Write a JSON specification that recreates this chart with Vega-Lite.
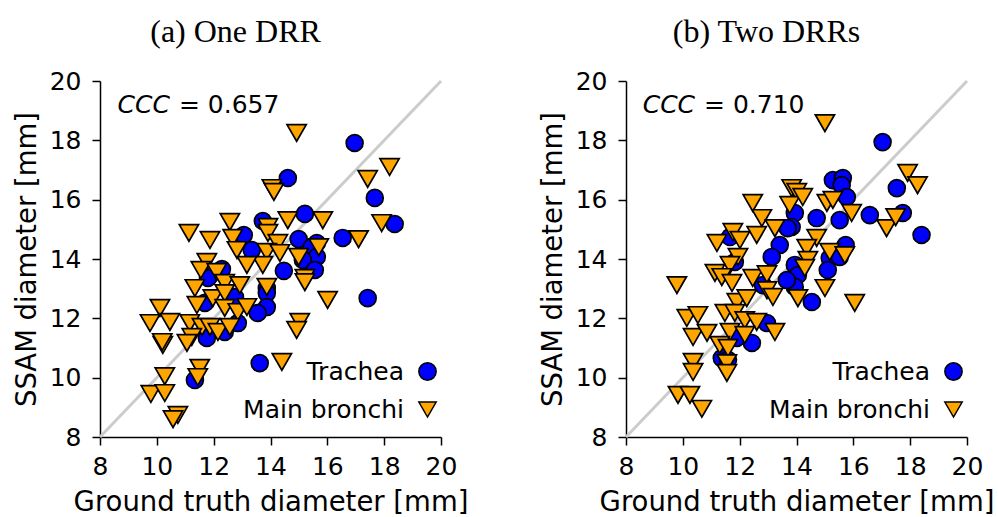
{
  "$schema": "https://vega.github.io/schema/vega-lite/v6.json",
  "background": "white",
  "padding": {"left": 13, "top": 16, "right": 5, "bottom": 5},
  "spacing": 71,
  "datasets": {
    "a": [
      {"structure": "Trachea", "ground_truth": 16.96, "ssam": 17.91},
      {"structure": "Trachea", "ground_truth": 14.61, "ssam": 16.73},
      {"structure": "Trachea", "ground_truth": 17.67, "ssam": 16.06},
      {"structure": "Trachea", "ground_truth": 18.37, "ssam": 15.18},
      {"structure": "Trachea", "ground_truth": 15.21, "ssam": 15.52},
      {"structure": "Trachea", "ground_truth": 13.73, "ssam": 15.28},
      {"structure": "Trachea", "ground_truth": 13.06, "ssam": 14.81},
      {"structure": "Trachea", "ground_truth": 13.34, "ssam": 14.30},
      {"structure": "Trachea", "ground_truth": 14.99, "ssam": 14.67},
      {"structure": "Trachea", "ground_truth": 16.54, "ssam": 14.71},
      {"structure": "Trachea", "ground_truth": 15.63, "ssam": 14.54},
      {"structure": "Trachea", "ground_truth": 15.45, "ssam": 14.40},
      {"structure": "Trachea", "ground_truth": 15.63, "ssam": 14.07},
      {"structure": "Trachea", "ground_truth": 15.14, "ssam": 13.97},
      {"structure": "Trachea", "ground_truth": 15.56, "ssam": 13.63},
      {"structure": "Trachea", "ground_truth": 14.47, "ssam": 13.60},
      {"structure": "Trachea", "ground_truth": 12.29, "ssam": 13.66},
      {"structure": "Trachea", "ground_truth": 11.80, "ssam": 13.36},
      {"structure": "Trachea", "ground_truth": 13.87, "ssam": 13.02},
      {"structure": "Trachea", "ground_truth": 12.75, "ssam": 12.72},
      {"structure": "Trachea", "ground_truth": 11.69, "ssam": 12.52},
      {"structure": "Trachea", "ground_truth": 13.87, "ssam": 12.85},
      {"structure": "Trachea", "ground_truth": 13.87, "ssam": 12.38},
      {"structure": "Trachea", "ground_truth": 13.55, "ssam": 12.18},
      {"structure": "Trachea", "ground_truth": 12.85, "ssam": 11.84},
      {"structure": "Trachea", "ground_truth": 12.39, "ssam": 11.54},
      {"structure": "Trachea", "ground_truth": 11.76, "ssam": 11.34},
      {"structure": "Trachea", "ground_truth": 13.62, "ssam": 10.49},
      {"structure": "Trachea", "ground_truth": 17.42, "ssam": 12.68},
      {"structure": "Trachea", "ground_truth": 11.34, "ssam": 9.92},
      {"structure": "Main bronchi", "ground_truth": 14.92, "ssam": 18.25},
      {"structure": "Main bronchi", "ground_truth": 18.19, "ssam": 17.10},
      {"structure": "Main bronchi", "ground_truth": 17.42, "ssam": 16.70},
      {"structure": "Main bronchi", "ground_truth": 14.05, "ssam": 16.39},
      {"structure": "Main bronchi", "ground_truth": 14.12, "ssam": 16.26},
      {"structure": "Main bronchi", "ground_truth": 14.61, "ssam": 15.31},
      {"structure": "Main bronchi", "ground_truth": 15.84, "ssam": 15.31},
      {"structure": "Main bronchi", "ground_truth": 17.91, "ssam": 15.21},
      {"structure": "Main bronchi", "ground_truth": 17.10, "ssam": 14.67},
      {"structure": "Main bronchi", "ground_truth": 13.91, "ssam": 15.08},
      {"structure": "Main bronchi", "ground_truth": 13.91, "ssam": 14.88},
      {"structure": "Main bronchi", "ground_truth": 14.26, "ssam": 14.54},
      {"structure": "Main bronchi", "ground_truth": 13.87, "ssam": 14.24},
      {"structure": "Main bronchi", "ground_truth": 14.33, "ssam": 14.20},
      {"structure": "Main bronchi", "ground_truth": 14.99, "ssam": 14.07},
      {"structure": "Main bronchi", "ground_truth": 15.70, "ssam": 14.40},
      {"structure": "Main bronchi", "ground_truth": 13.73, "ssam": 13.80},
      {"structure": "Main bronchi", "ground_truth": 15.21, "ssam": 13.36},
      {"structure": "Main bronchi", "ground_truth": 13.87, "ssam": 13.06},
      {"structure": "Main bronchi", "ground_truth": 12.57, "ssam": 15.25},
      {"structure": "Main bronchi", "ground_truth": 11.13, "ssam": 14.88},
      {"structure": "Main bronchi", "ground_truth": 11.87, "ssam": 14.64},
      {"structure": "Main bronchi", "ground_truth": 12.67, "ssam": 14.71},
      {"structure": "Main bronchi", "ground_truth": 12.82, "ssam": 14.30},
      {"structure": "Main bronchi", "ground_truth": 13.17, "ssam": 13.80},
      {"structure": "Main bronchi", "ground_truth": 11.76, "ssam": 13.90},
      {"structure": "Main bronchi", "ground_truth": 11.55, "ssam": 13.63},
      {"structure": "Main bronchi", "ground_truth": 12.11, "ssam": 13.56},
      {"structure": "Main bronchi", "ground_truth": 11.34, "ssam": 13.02},
      {"structure": "Main bronchi", "ground_truth": 12.39, "ssam": 13.19},
      {"structure": "Main bronchi", "ground_truth": 12.92, "ssam": 13.12},
      {"structure": "Main bronchi", "ground_truth": 11.97, "ssam": 12.68},
      {"structure": "Main bronchi", "ground_truth": 11.41, "ssam": 12.45},
      {"structure": "Main bronchi", "ground_truth": 12.39, "ssam": 12.85},
      {"structure": "Main bronchi", "ground_truth": 12.39, "ssam": 12.35},
      {"structure": "Main bronchi", "ground_truth": 12.85, "ssam": 12.21},
      {"structure": "Main bronchi", "ground_truth": 13.17, "ssam": 12.38},
      {"structure": "Main bronchi", "ground_truth": 10.11, "ssam": 12.35},
      {"structure": "Main bronchi", "ground_truth": 9.76, "ssam": 11.84},
      {"structure": "Main bronchi", "ground_truth": 10.46, "ssam": 11.88},
      {"structure": "Main bronchi", "ground_truth": 11.16, "ssam": 11.84},
      {"structure": "Main bronchi", "ground_truth": 11.59, "ssam": 11.71},
      {"structure": "Main bronchi", "ground_truth": 11.87, "ssam": 11.71},
      {"structure": "Main bronchi", "ground_truth": 12.15, "ssam": 11.54},
      {"structure": "Main bronchi", "ground_truth": 12.57, "ssam": 11.71},
      {"structure": "Main bronchi", "ground_truth": 11.23, "ssam": 11.37},
      {"structure": "Main bronchi", "ground_truth": 11.06, "ssam": 11.17},
      {"structure": "Main bronchi", "ground_truth": 10.21, "ssam": 11.10},
      {"structure": "Main bronchi", "ground_truth": 10.19, "ssam": 11.20},
      {"structure": "Main bronchi", "ground_truth": 10.28, "ssam": 10.05},
      {"structure": "Main bronchi", "ground_truth": 9.79, "ssam": 9.45},
      {"structure": "Main bronchi", "ground_truth": 10.28, "ssam": 9.48},
      {"structure": "Main bronchi", "ground_truth": 10.74, "ssam": 8.74},
      {"structure": "Main bronchi", "ground_truth": 10.57, "ssam": 8.60},
      {"structure": "Main bronchi", "ground_truth": 11.51, "ssam": 10.33},
      {"structure": "Main bronchi", "ground_truth": 11.44, "ssam": 10.02},
      {"structure": "Main bronchi", "ground_truth": 16.01, "ssam": 12.62},
      {"structure": "Main bronchi", "ground_truth": 15.03, "ssam": 11.88},
      {"structure": "Main bronchi", "ground_truth": 14.92, "ssam": 11.61},
      {"structure": "Main bronchi", "ground_truth": 14.40, "ssam": 10.53},
      {"structure": "Main bronchi", "ground_truth": 15.21, "ssam": 13.22}
    ],
    "b": [
      {"structure": "Trachea", "ground_truth": 17.03, "ssam": 17.94},
      {"structure": "Trachea", "ground_truth": 17.53, "ssam": 16.39},
      {"structure": "Trachea", "ground_truth": 15.28, "ssam": 16.66},
      {"structure": "Trachea", "ground_truth": 15.63, "ssam": 16.73},
      {"structure": "Trachea", "ground_truth": 15.59, "ssam": 16.49},
      {"structure": "Trachea", "ground_truth": 15.77, "ssam": 16.09},
      {"structure": "Trachea", "ground_truth": 16.58, "ssam": 15.48},
      {"structure": "Trachea", "ground_truth": 17.74, "ssam": 15.55},
      {"structure": "Trachea", "ground_truth": 18.40, "ssam": 14.81},
      {"structure": "Trachea", "ground_truth": 14.71, "ssam": 15.38},
      {"structure": "Trachea", "ground_truth": 15.52, "ssam": 15.31},
      {"structure": "Trachea", "ground_truth": 13.94, "ssam": 15.55},
      {"structure": "Trachea", "ground_truth": 13.83, "ssam": 15.08},
      {"structure": "Trachea", "ground_truth": 15.73, "ssam": 14.47},
      {"structure": "Trachea", "ground_truth": 15.17, "ssam": 14.03},
      {"structure": "Trachea", "ground_truth": 15.52, "ssam": 14.07},
      {"structure": "Trachea", "ground_truth": 13.94, "ssam": 13.80},
      {"structure": "Trachea", "ground_truth": 14.05, "ssam": 13.46},
      {"structure": "Trachea", "ground_truth": 15.10, "ssam": 13.63},
      {"structure": "Trachea", "ground_truth": 14.54, "ssam": 12.55},
      {"structure": "Trachea", "ground_truth": 13.94, "ssam": 13.06},
      {"structure": "Trachea", "ground_truth": 13.66, "ssam": 13.29},
      {"structure": "Trachea", "ground_truth": 12.82, "ssam": 13.12},
      {"structure": "Trachea", "ground_truth": 12.96, "ssam": 11.84},
      {"structure": "Trachea", "ground_truth": 11.90, "ssam": 11.34},
      {"structure": "Trachea", "ground_truth": 12.43, "ssam": 11.17},
      {"structure": "Trachea", "ground_truth": 11.37, "ssam": 10.66},
      {"structure": "Trachea", "ground_truth": 11.59, "ssam": 10.60},
      {"structure": "Trachea", "ground_truth": 11.66, "ssam": 14.74},
      {"structure": "Trachea", "ground_truth": 13.69, "ssam": 15.04},
      {"structure": "Trachea", "ground_truth": 13.41, "ssam": 14.47},
      {"structure": "Trachea", "ground_truth": 13.13, "ssam": 14.07},
      {"structure": "Trachea", "ground_truth": 11.83, "ssam": 13.90},
      {"structure": "Main bronchi", "ground_truth": 15.00, "ssam": 18.58},
      {"structure": "Main bronchi", "ground_truth": 17.91, "ssam": 16.90},
      {"structure": "Main bronchi", "ground_truth": 18.26, "ssam": 16.49},
      {"structure": "Main bronchi", "ground_truth": 17.17, "ssam": 15.04},
      {"structure": "Main bronchi", "ground_truth": 17.49, "ssam": 15.41},
      {"structure": "Main bronchi", "ground_truth": 15.94, "ssam": 15.55},
      {"structure": "Main bronchi", "ground_truth": 15.07, "ssam": 15.89},
      {"structure": "Main bronchi", "ground_truth": 15.28, "ssam": 15.99},
      {"structure": "Main bronchi", "ground_truth": 13.83, "ssam": 16.39},
      {"structure": "Main bronchi", "ground_truth": 14.01, "ssam": 16.26},
      {"structure": "Main bronchi", "ground_truth": 13.76, "ssam": 15.82},
      {"structure": "Main bronchi", "ground_truth": 14.22, "ssam": 16.09},
      {"structure": "Main bronchi", "ground_truth": 12.46, "ssam": 15.89},
      {"structure": "Main bronchi", "ground_truth": 12.78, "ssam": 15.38},
      {"structure": "Main bronchi", "ground_truth": 12.60, "ssam": 14.81},
      {"structure": "Main bronchi", "ground_truth": 13.24, "ssam": 15.04},
      {"structure": "Main bronchi", "ground_truth": 11.76, "ssam": 14.91},
      {"structure": "Main bronchi", "ground_truth": 12.01, "ssam": 14.64},
      {"structure": "Main bronchi", "ground_truth": 11.20, "ssam": 14.54},
      {"structure": "Main bronchi", "ground_truth": 11.94, "ssam": 14.07},
      {"structure": "Main bronchi", "ground_truth": 11.66, "ssam": 13.80},
      {"structure": "Main bronchi", "ground_truth": 11.13, "ssam": 13.53},
      {"structure": "Main bronchi", "ground_truth": 11.37, "ssam": 13.39},
      {"structure": "Main bronchi", "ground_truth": 12.46, "ssam": 13.36},
      {"structure": "Main bronchi", "ground_truth": 12.96, "ssam": 13.49},
      {"structure": "Main bronchi", "ground_truth": 14.71, "ssam": 14.71},
      {"structure": "Main bronchi", "ground_truth": 14.36, "ssam": 14.37},
      {"structure": "Main bronchi", "ground_truth": 15.17, "ssam": 14.24},
      {"structure": "Main bronchi", "ground_truth": 15.70, "ssam": 14.13},
      {"structure": "Main bronchi", "ground_truth": 14.40, "ssam": 13.97},
      {"structure": "Main bronchi", "ground_truth": 14.29, "ssam": 13.70},
      {"structure": "Main bronchi", "ground_truth": 15.00, "ssam": 13.02},
      {"structure": "Main bronchi", "ground_truth": 16.05, "ssam": 12.52},
      {"structure": "Main bronchi", "ground_truth": 14.05, "ssam": 12.68},
      {"structure": "Main bronchi", "ground_truth": 9.79, "ssam": 13.12},
      {"structure": "Main bronchi", "ground_truth": 11.73, "ssam": 13.19},
      {"structure": "Main bronchi", "ground_truth": 12.96, "ssam": 12.95},
      {"structure": "Main bronchi", "ground_truth": 13.17, "ssam": 12.72},
      {"structure": "Main bronchi", "ground_truth": 11.90, "ssam": 12.55},
      {"structure": "Main bronchi", "ground_truth": 12.25, "ssam": 12.68},
      {"structure": "Main bronchi", "ground_truth": 10.14, "ssam": 12.01},
      {"structure": "Main bronchi", "ground_truth": 10.53, "ssam": 12.11},
      {"structure": "Main bronchi", "ground_truth": 11.48, "ssam": 12.18},
      {"structure": "Main bronchi", "ground_truth": 11.83, "ssam": 12.18},
      {"structure": "Main bronchi", "ground_truth": 12.18, "ssam": 11.94},
      {"structure": "Main bronchi", "ground_truth": 12.60, "ssam": 11.88},
      {"structure": "Main bronchi", "ground_truth": 13.24, "ssam": 11.54},
      {"structure": "Main bronchi", "ground_truth": 10.36, "ssam": 11.37},
      {"structure": "Main bronchi", "ground_truth": 10.85, "ssam": 11.51},
      {"structure": "Main bronchi", "ground_truth": 11.66, "ssam": 11.54},
      {"structure": "Main bronchi", "ground_truth": 12.18, "ssam": 11.44},
      {"structure": "Main bronchi", "ground_truth": 11.30, "ssam": 11.10},
      {"structure": "Main bronchi", "ground_truth": 11.59, "ssam": 11.00},
      {"structure": "Main bronchi", "ground_truth": 10.36, "ssam": 10.53},
      {"structure": "Main bronchi", "ground_truth": 10.36, "ssam": 10.19},
      {"structure": "Main bronchi", "ground_truth": 11.55, "ssam": 10.49},
      {"structure": "Main bronchi", "ground_truth": 11.55, "ssam": 10.16},
      {"structure": "Main bronchi", "ground_truth": 9.83, "ssam": 9.42},
      {"structure": "Main bronchi", "ground_truth": 10.25, "ssam": 9.42},
      {"structure": "Main bronchi", "ground_truth": 10.67, "ssam": 8.95}
    ]
  },
  "resolve": {
    "scale": {"fill": "independent", "shape": "independent"},
    "legend": {"fill": "independent", "shape": "independent"}
  },
  "hconcat": [
    {
      "width": 341,
      "height": 356,
      "title": {"text": "(a) One DRR", "dx": -5},
      "layer": [
        {
          "data": {"values": [{}]},
          "mark": {"type": "rule", "color": "#cccccc", "strokeWidth": 3},
          "encoding": {
            "x": {"datum": 8, "type": "quantitative"},
            "y": {"datum": 8, "type": "quantitative"},
            "x2": {"datum": 20},
            "y2": {"datum": 20}
          }
        },
        {
          "data": {"name": "a"},
          "transform": [{"filter": "datum.structure === 'Trachea'"}],
          "mark": {"type": "point", "filled": true, "stroke": "black", "strokeWidth": 1.7, "opacity": 1, "size": 285},
          "encoding": {
            "x": {"field": "ground_truth", "type": "quantitative", "scale": {"domain": [8, 20], "nice": false, "zero": false}, "axis": {"title": "Ground truth diameter [mm]", "values": [8, 10, 12, 14, 16, 18, 20]}},
            "y": {"field": "ssam", "type": "quantitative", "scale": {"domain": [8, 20], "nice": false, "zero": false}, "axis": {"title": "SSAM diameter [mm]", "values": [8, 10, 12, 14, 16, 18, 20]}},
            "fill": {"field": "structure", "type": "nominal", "scale": {"domain": ["Trachea", "Main bronchi"], "range": ["#0000ff", "#ffa500"]}, "legend": {"title": null, "orient": "none", "legendX": 315, "legendY": 278, "labelAlign": "right", "labelOffset": -36, "labelLimit": 0, "rowPadding": 12, "symbolSize": 300, "encode": {"symbols": {"update": {"stroke": {"value": "black"}, "strokeWidth": {"value": 1.7}}}}}},
            "shape": {"field": "structure", "type": "nominal", "scale": {"domain": ["Trachea", "Main bronchi"], "range": ["circle", "triangle-down"]}, "legend": {"title": null, "orient": "none", "legendX": 315, "legendY": 278, "labelAlign": "right", "labelOffset": -36, "labelLimit": 0, "rowPadding": 12, "symbolSize": 300, "encode": {"symbols": {"update": {"stroke": {"value": "black"}, "strokeWidth": {"value": 1.7}}}}}}
          }
        },
        {
          "data": {"name": "a"},
          "transform": [{"filter": "datum.structure === 'Main bronchi'"}],
          "mark": {"type": "point", "filled": true, "stroke": "black", "strokeWidth": 1.7, "opacity": 1, "size": 370},
          "encoding": {
            "x": {"field": "ground_truth", "type": "quantitative"},
            "y": {"field": "ssam", "type": "quantitative"},
            "fill": {"field": "structure", "type": "nominal", "scale": {"domain": ["Trachea", "Main bronchi"], "range": ["#0000ff", "#ffa500"]}, "legend": {"title": null, "orient": "none", "legendX": 315, "legendY": 278, "labelAlign": "right", "labelOffset": -36, "labelLimit": 0, "rowPadding": 12, "symbolSize": 300, "encode": {"symbols": {"update": {"stroke": {"value": "black"}, "strokeWidth": {"value": 1.7}}}}}},
            "shape": {"field": "structure", "type": "nominal", "scale": {"domain": ["Trachea", "Main bronchi"], "range": ["circle", "triangle-down"]}, "legend": {"title": null, "orient": "none", "legendX": 315, "legendY": 278, "labelAlign": "right", "labelOffset": -36, "labelLimit": 0, "rowPadding": 12, "symbolSize": 300, "encode": {"symbols": {"update": {"stroke": {"value": "black"}, "strokeWidth": {"value": 1.7}}}}}}
          }
        },
        {
          "data": {"values": [{}]},
          "mark": {"type": "text", "text": "CCC", "font": "DejaVu Sans", "fontSize": 25, "fontStyle": "italic", "align": "right", "baseline": "alphabetic", "color": "black"},
          "encoding": {"x": {"datum": 10.46, "type": "quantitative"}, "y": {"datum": 18.92, "type": "quantitative"}}
        },
        {
          "data": {"values": [{}]},
          "mark": {"type": "text", "text": "= 0.657", "font": "DejaVu Sans", "fontSize": 25, "align": "left", "dx": 9, "baseline": "alphabetic", "color": "black"},
          "encoding": {"x": {"datum": 10.46, "type": "quantitative"}, "y": {"datum": 18.92, "type": "quantitative"}}
        }
      ]
    },
    {
      "width": 341,
      "height": 356,
      "title": {"text": "(b) Two DRRs"},
      "layer": [
        {
          "data": {"values": [{}]},
          "mark": {"type": "rule", "color": "#cccccc", "strokeWidth": 3},
          "encoding": {
            "x": {"datum": 8, "type": "quantitative"},
            "y": {"datum": 8, "type": "quantitative"},
            "x2": {"datum": 20},
            "y2": {"datum": 20}
          }
        },
        {
          "data": {"name": "b"},
          "transform": [{"filter": "datum.structure === 'Trachea'"}],
          "mark": {"type": "point", "filled": true, "stroke": "black", "strokeWidth": 1.7, "opacity": 1, "size": 285},
          "encoding": {
            "x": {"field": "ground_truth", "type": "quantitative", "scale": {"domain": [8, 20], "nice": false, "zero": false}, "axis": {"title": "Ground truth diameter [mm]", "values": [8, 10, 12, 14, 16, 18, 20]}},
            "y": {"field": "ssam", "type": "quantitative", "scale": {"domain": [8, 20], "nice": false, "zero": false}, "axis": {"title": "SSAM diameter [mm]", "values": [8, 10, 12, 14, 16, 18, 20]}},
            "fill": {"field": "structure", "type": "nominal", "scale": {"domain": ["Trachea", "Main bronchi"], "range": ["#0000ff", "#ffa500"]}, "legend": {"title": null, "orient": "none", "legendX": 315, "legendY": 278, "labelAlign": "right", "labelOffset": -36, "labelLimit": 0, "rowPadding": 12, "symbolSize": 300, "encode": {"symbols": {"update": {"stroke": {"value": "black"}, "strokeWidth": {"value": 1.7}}}}}},
            "shape": {"field": "structure", "type": "nominal", "scale": {"domain": ["Trachea", "Main bronchi"], "range": ["circle", "triangle-down"]}, "legend": {"title": null, "orient": "none", "legendX": 315, "legendY": 278, "labelAlign": "right", "labelOffset": -36, "labelLimit": 0, "rowPadding": 12, "symbolSize": 300, "encode": {"symbols": {"update": {"stroke": {"value": "black"}, "strokeWidth": {"value": 1.7}}}}}}
          }
        },
        {
          "data": {"name": "b"},
          "transform": [{"filter": "datum.structure === 'Main bronchi'"}],
          "mark": {"type": "point", "filled": true, "stroke": "black", "strokeWidth": 1.7, "opacity": 1, "size": 370},
          "encoding": {
            "x": {"field": "ground_truth", "type": "quantitative"},
            "y": {"field": "ssam", "type": "quantitative"},
            "fill": {"field": "structure", "type": "nominal", "scale": {"domain": ["Trachea", "Main bronchi"], "range": ["#0000ff", "#ffa500"]}, "legend": {"title": null, "orient": "none", "legendX": 315, "legendY": 278, "labelAlign": "right", "labelOffset": -36, "labelLimit": 0, "rowPadding": 12, "symbolSize": 300, "encode": {"symbols": {"update": {"stroke": {"value": "black"}, "strokeWidth": {"value": 1.7}}}}}},
            "shape": {"field": "structure", "type": "nominal", "scale": {"domain": ["Trachea", "Main bronchi"], "range": ["circle", "triangle-down"]}, "legend": {"title": null, "orient": "none", "legendX": 315, "legendY": 278, "labelAlign": "right", "labelOffset": -36, "labelLimit": 0, "rowPadding": 12, "symbolSize": 300, "encode": {"symbols": {"update": {"stroke": {"value": "black"}, "strokeWidth": {"value": 1.7}}}}}}
          }
        },
        {
          "data": {"values": [{}]},
          "mark": {"type": "text", "text": "CCC", "font": "DejaVu Sans", "fontSize": 25, "fontStyle": "italic", "align": "right", "baseline": "alphabetic", "color": "black"},
          "encoding": {"x": {"datum": 10.43, "type": "quantitative"}, "y": {"datum": 18.92, "type": "quantitative"}}
        },
        {
          "data": {"values": [{}]},
          "mark": {"type": "text", "text": "= 0.710", "font": "DejaVu Sans", "fontSize": 25, "align": "left", "dx": 9, "baseline": "alphabetic", "color": "black"},
          "encoding": {"x": {"datum": 10.43, "type": "quantitative"}, "y": {"datum": 18.92, "type": "quantitative"}}
        }
      ]
    }
  ],
  "config": {
    "view": {"stroke": null},
    "font": "DejaVu Sans",
    "axis": {
      "grid": false,
      "domainColor": "black",
      "domainWidth": 1.5,
      "tickColor": "black",
      "tickWidth": 1.5,
      "tickSize": 8,
      "labelFont": "DejaVu Sans",
      "labelFontSize": 25,
      "labelColor": "black",
      "labelFlush": false,
      "labelOverlap": false,
      "labelBound": false,
      "titleFont": "DejaVu Sans",
      "titleFontSize": 27.5,
      "titleFontWeight": "normal",
      "titleColor": "black"
    },
    "axisX": {"titlePadding": 9, "labelPadding": 9},
    "axisY": {"titlePadding": 8, "labelPadding": 11},
    "legend": {
      "labelFont": "DejaVu Sans",
      "labelFontSize": 25,
      "labelColor": "black"
    },
    "title": {
      "font": "Liberation Serif",
      "fontSize": 32,
      "fontWeight": "normal",
      "color": "black",
      "anchor": "middle",
      "frame": "bounds",
      "offset": 20
    }
  }
}
